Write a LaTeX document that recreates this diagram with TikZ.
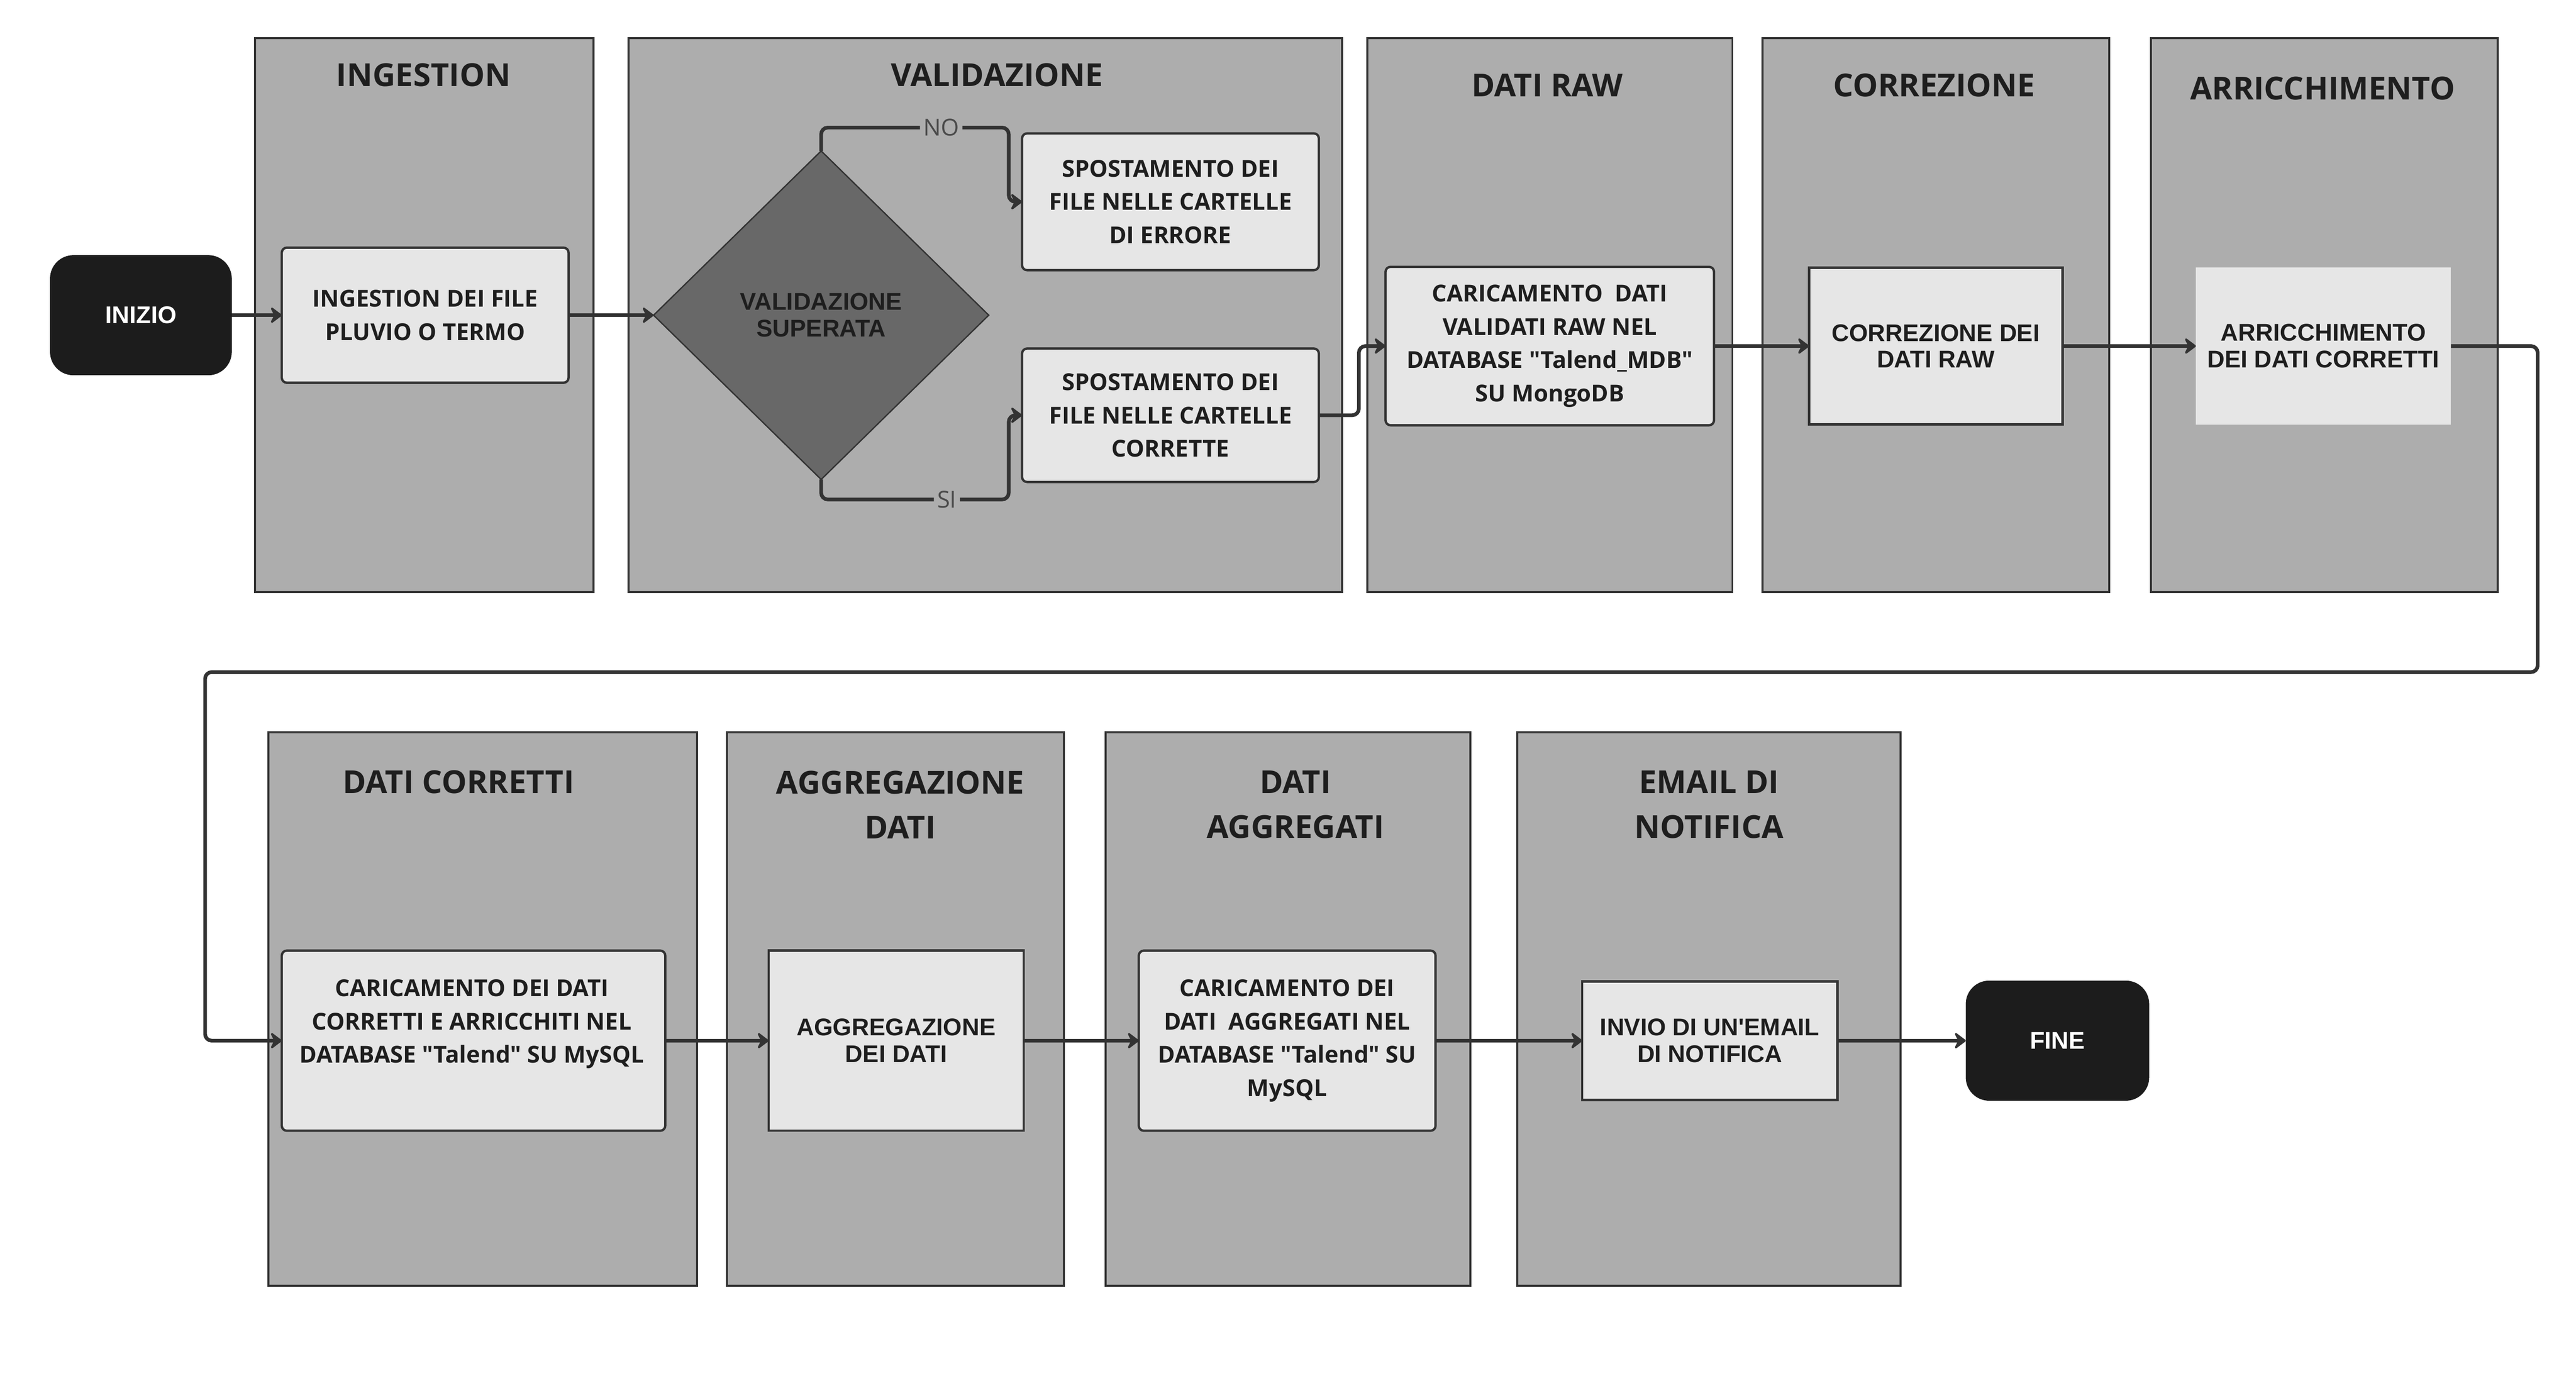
\documentclass[tikz,border=0pt]{standalone}
\usepackage{fontspec}
\setmainfont{Open Sans}[Ligatures=TeXOff]
\newfontfamily\arialfont{Liberation Sans}[Ligatures=TeXOff]
\usetikzlibrary{positioning,shapes.geometric,arrows.meta}
\definecolor{lanegray}{HTML}{ADADAD}
\definecolor{boxgray}{HTML}{E6E6E6}
\definecolor{diagray}{HTML}{686868}
\definecolor{termblack}{HTML}{1C1C1C}
\definecolor{linegray}{HTML}{333333}
\definecolor{inkgray}{HTML}{1E1E1E}
\definecolor{labelgray}{HTML}{4A4A4A}

\begin{document}
\begin{tikzpicture}[x=1pt, y=-1pt,
    lane/.style = {draw=linegray, line width=1.2pt, fill=lanegray},
    lanetitle/.style = {font=\fontsize{19}{27}\selectfont\bfseries, text=inkgray, align=center, inner sep=0pt},
    procbox/.style = {draw=linegray, line width=1.4pt, fill=boxgray, rounded corners=3pt, outer sep=0pt, inner sep=0pt, align=center, text=inkgray, font=\fontsize{14}{20}\selectfont\bfseries},
    flatbox/.style = {procbox, sharp corners, font=\arialfont\fontsize{14.5}{16}\selectfont\bfseries},
    terminal/.style = {fill=termblack, rounded corners=14pt, outer sep=0pt, text=white, font=\arialfont\fontsize{14.5}{16}\selectfont\bfseries, minimum width=109pt, minimum height=72pt},
    decision/.style = {diamond, draw=linegray, line width=0.8pt, fill=diagray, outer sep=0pt, inner sep=0pt, align=center, text=inkgray, font=\arialfont\fontsize{14.5}{16}\selectfont\bfseries, minimum width=201pt, minimum height=197pt},
    flow/.style = {draw=linegray, line width=2.2pt, rounded corners=4pt, -{Stealth[length=8pt, width=12pt, inset=3pt, round]}},
    branch/.style = {fill=lanegray, text=labelgray, font=\fontsize{14}{16}\selectfont, inner sep=2pt}
  ]
  \useasboundingbox (0,0) rectangle (1545,826);

  \foreach \xa/\xb/\ya/\yb/\tx/\ty/\ttl [count=\i] in {
      153/356/23/355/254/45/INGESTION,
      377/805/23/355/598/45/VALIDAZIONE,
      820/1039/23/355/928/51/DATI RAW,
      1057/1265/23/355/1160/51/CORREZIONE,
      1290/1498/23/355/1393/53/ARRICCHIMENTO,
      161/418/439/771/275/469/DATI CORRETTI,
      436/638/439/771/540/482.5/{AGGREGAZIONE\\DATI},
      663/882/439/771/777/482.5/{DATI\\AGGREGATI},
      910/1140/439/771/1025/482.5/{EMAIL DI\\NOTIFICA}} {
    \draw[lane] (\xa,\ya) rectangle (\xb,\yb);
    \node[lanetitle] (t\i) at (\tx,\ty) {\ttl};
  }

  \node[terminal] (inizio) at (84.5,189) {INIZIO};
  \node[procbox, minimum width=172pt, minimum height=81pt, right=30pt of inizio] (ing) {INGESTION DEI FILE\\PLUVIO O TERMO};
  \node[decision, right=51pt of ing] (val) {VALIDAZIONE\\SUPERATA};
  \node[procbox, minimum width=178pt, minimum height=82pt] (err) at (702,121) {SPOSTAMENTO DEI\\FILE NELLE CARTELLE\\DI ERRORE};
  \node[procbox, minimum width=178pt, minimum height=80pt] (ok) at (702,249) {SPOSTAMENTO DEI\\FILE NELLE CARTELLE\\CORRETTE};
  \node[procbox, minimum width=197pt, minimum height=95pt] (raw) at (929.5,207.5) {CARICAMENTO~ DATI\\VALIDATI RAW NEL\\DATABASE "Talend\_MDB"\\SU MongoDB};
  \node[flatbox, minimum width=152pt, minimum height=94pt, right=57pt of raw] (cor) {CORREZIONE DEI\\DATI RAW};
  \node[flatbox, draw=none, minimum width=153pt, minimum height=94pt, right=80pt of cor] (arr) {ARRICCHIMENTO\\DEI DATI CORRETTI};
  \coordinate (turn) at (1522,403);

  \node[procbox, minimum width=230pt, minimum height=108pt] (dc) at (284,624) {};
  \node[align=center, text=inkgray, font=\fontsize{14}{20}\selectfont\bfseries] (dctext) at (283,614) {CARICAMENTO DEI DATI\\CORRETTI E ARRICCHITI NEL\\DATABASE "Talend" SU MySQL};
  \node[flatbox, minimum width=153pt, minimum height=108pt, right=62pt of dc] (agg) {AGGREGAZIONE\\DEI DATI};
  \node[procbox, minimum width=178pt, minimum height=108pt, right=69pt of agg] (da) {CARICAMENTO DEI\\DATI~ AGGREGATI NEL\\DATABASE "Talend" SU\\MySQL};
  \node[flatbox, minimum width=153pt, minimum height=71pt, right=88pt of da] (mail) {INVIO DI UN'EMAIL\\DI NOTIFICA};
  \node[terminal, minimum width=110pt, right=77pt of mail] (fine) {FINE};

  \draw[flow] (inizio) -- (ing);
  \draw[flow] (ing) -- (val);
  \draw[flow] (val.north) -- ++(0,-14) -| node[branch, pos=0.32] (no) {NO} ([xshift=-8pt]err.west) -- (err.west);
  \draw[flow] (val.south) -- ++(0,12) -| node[branch, pos=0.335] (si) {SI} ([xshift=-8pt]ok.west) -- (ok.west);
  \draw[flow] (ok.east) -| ([xshift=-16pt]raw.west) -- (raw.west);
  \draw[flow] (raw) -- (cor);
  \draw[flow] (cor) -- (arr);
  \draw[flow] (arr.east) -| (turn) -| ([xshift=-46pt]dc.west) -- (dc.west);
  \draw[flow] (dc) -- (agg);
  \draw[flow] (agg) -- (da);
  \draw[flow] (da) -- (mail);
  \draw[flow] (mail) -- (fine);
\end{tikzpicture}
\end{document}
